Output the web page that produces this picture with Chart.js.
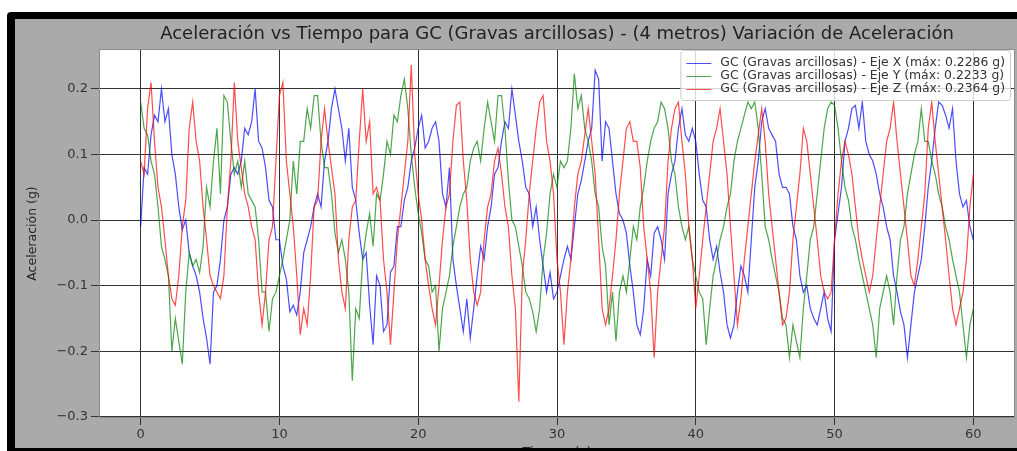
<!doctype html>
<html lang="es">
<head>
<meta charset="UTF-8">
<title>Aceleración vs Tiempo - GC (Gravas arcillosas)</title>
<script src="https://cdn.jsdelivr.net/npm/chart.js"></script>
<style>
  html, body { margin: 0; padding: 0; background: #fff; overflow: hidden; }
  body { width: 1017px; height: 451px; position: relative; }
  .marco { position: absolute; left: 7px; top: 12px; width: 1010px; height: 439px; background: #000; border-top-left-radius: 4px; }
  .fondo { position: absolute; left: 15px; top: 19px; width: 1002px; height: 429px; background: #aaaaaa; }
  #grafico { position: absolute; left: 15px; top: 19px; }
  .borde-inf { position: absolute; left: 7px; top: 448px; width: 1010px; height: 3px; background: #000; }
</style>
</head>
<body>
<div class="marco"></div>
<div class="fondo"></div>
<canvas id="grafico" width="1002" height="460"></canvas>
<div class="borde-inf"></div>

<script>
// muestras cada 0.25 s, de 0 a 60 s
const PASO = 0.25;

const ejeX = [
  -0.01, 0.08, 0.07, 0.13, 0.16, 0.15, 0.20, 0.15, 0.17, 0.10, 0.07, 0.02, -0.015, 0.0, -0.05, -0.07, -0.085, -0.11, -0.15, -0.18,
  -0.22, -0.11, -0.10, -0.06, 0.0, 0.02, 0.07, 0.08, 0.07, 0.09, 0.14, 0.13, 0.15, 0.20, 0.12, 0.11, 0.08, 0.03, 0.02, -0.03,
  -0.03, -0.07, -0.09, -0.14, -0.13, -0.145, -0.11, -0.05, -0.03, -0.01, 0.02, 0.04, 0.02, 0.09, 0.12, 0.17, 0.20, 0.17, 0.14, 0.09,
  0.14, 0.05, 0.03, -0.02, -0.06, -0.05, -0.13, -0.19, -0.085, -0.10, -0.17, -0.16, -0.08, -0.07, -0.01, -0.01, 0.03, 0.05, 0.09, 0.11,
  0.14, 0.16, 0.11, 0.12, 0.14, 0.15, 0.12, 0.04, 0.02, 0.08, -0.06, -0.10, -0.135, -0.17, -0.12, -0.18, -0.135, -0.085, -0.04, -0.06,
  -0.01, 0.02, 0.07, 0.08, 0.12, 0.15, 0.14, 0.20, 0.16, 0.12, 0.09, 0.05, 0.04, -0.01, 0.02, -0.03, -0.07, -0.11, -0.08, -0.12,
  -0.11, -0.085, -0.06, -0.04, -0.06, -0.01, 0.04, 0.06, 0.09, 0.12, 0.14, 0.2286, 0.215, 0.09, 0.15, 0.14, 0.09, 0.04, 0.01, 0.0,
  -0.02, -0.07, -0.11, -0.16, -0.175, -0.135, -0.06, -0.085, -0.02, -0.01, -0.03, -0.06, 0.04, 0.07, 0.09, 0.14, 0.17, 0.13, 0.12, 0.14,
  0.12, 0.07, 0.03, 0.02, -0.03, -0.06, -0.04, -0.08, -0.11, -0.16, -0.18, -0.16, -0.11, -0.07, -0.085, -0.11, -0.03, 0.05, 0.09, 0.15,
  0.17, 0.14, 0.13, 0.12, 0.07, 0.05, 0.05, 0.04, -0.01, -0.03, -0.085, -0.11, -0.10, -0.135, -0.15, -0.16, -0.135, -0.11, -0.15, -0.17,
  -0.03, 0.01, 0.05, 0.12, 0.14, 0.17, 0.175, 0.14, 0.18, 0.12, 0.10, 0.09, 0.07, 0.04, 0.02, -0.01, -0.03, -0.085, -0.11, -0.14,
  -0.16, -0.21, -0.16, -0.11, -0.085, -0.06, -0.01, 0.05, 0.09, 0.14, 0.18, 0.175, 0.16, 0.14, 0.17, 0.09, 0.04, 0.02, 0.03, -0.01,
  -0.03
];

const ejeY = [
  0.18, 0.14, 0.13, 0.09, 0.07, 0.02, -0.04, -0.06, -0.085, -0.20, -0.15, -0.185, -0.22, -0.11, -0.05, -0.07, -0.06, -0.08, -0.04, 0.05,
  0.02, 0.09, 0.14, 0.04, 0.19, 0.18, 0.12, 0.07, 0.09, 0.05, 0.09, 0.04, 0.03, 0.02, -0.03, -0.11, -0.11, -0.17, -0.12, -0.11,
  -0.085, -0.06, -0.03, 0.0, 0.09, 0.04, 0.12, 0.12, 0.17, 0.14, 0.19, 0.19, 0.12, 0.08, 0.08, 0.04, -0.02, -0.05, -0.03, -0.06,
  -0.11, -0.245, -0.135, -0.15, -0.06, -0.02, 0.01, -0.04, 0.04, 0.03, 0.07, 0.12, 0.10, 0.16, 0.15, 0.19, 0.215, 0.17, 0.10, 0.05,
  0.01, -0.02, -0.06, -0.07, -0.11, -0.10, -0.20, -0.135, -0.11, -0.085, -0.04, -0.01, 0.02, 0.04, 0.05, 0.09, 0.11, 0.12, 0.09, 0.14,
  0.18, 0.15, 0.12, 0.19, 0.19, 0.14, 0.06, 0.0, -0.01, -0.04, -0.07, -0.11, -0.12, -0.14, -0.17, -0.135, -0.06, -0.02, 0.04, 0.07,
  0.05, 0.09, 0.08, 0.09, 0.14, 0.2233, 0.17, 0.19, 0.14, 0.12, 0.09, 0.04, 0.02, -0.04, -0.07, -0.16, -0.11, -0.185, -0.11, -0.085,
  -0.11, -0.06, -0.01, -0.03, 0.02, 0.05, 0.09, 0.12, 0.14, 0.15, 0.18, 0.17, 0.14, 0.09, 0.07, 0.02, -0.01, -0.03, -0.01, -0.06,
  -0.085, -0.11, -0.12, -0.19, -0.135, -0.085, -0.06, -0.03, -0.01, 0.02, 0.04, 0.09, 0.12, 0.14, 0.16, 0.18, 0.17, 0.18, 0.14, 0.07,
  -0.01, -0.03, -0.06, -0.085, -0.11, -0.15, -0.16, -0.21, -0.16, -0.185, -0.21, -0.135, -0.085, -0.03, -0.01, 0.04, 0.09, 0.14, 0.17, 0.18,
  0.175, 0.14, 0.09, 0.05, 0.03, -0.01, -0.03, -0.06, -0.085, -0.11, -0.135, -0.16, -0.21, -0.135, -0.11, -0.085, -0.11, -0.16, -0.085, -0.03,
  -0.01, 0.04, 0.07, 0.10, 0.12, 0.17, 0.12, 0.12, 0.09, 0.07, 0.04, 0.02, -0.01, -0.03, -0.06, -0.085, -0.11, -0.16, -0.21, -0.16,
  -0.135
];

const ejeZ = [
  0.09, 0.07, 0.17, 0.21, 0.12, 0.05, 0.02, -0.03, -0.085, -0.12, -0.13, -0.085, -0.01, 0.03, 0.14, 0.18, 0.12, 0.09, 0.02, -0.03,
  -0.085, -0.10, -0.11, -0.12, -0.085, 0.02, 0.09, 0.21, 0.12, 0.08, 0.04, 0.02, -0.01, -0.03, -0.11, -0.16, -0.11, -0.03, -0.01, 0.09,
  0.19, 0.21, 0.09, 0.04, -0.01, -0.085, -0.175, -0.135, -0.16, -0.085, 0.02, 0.03, 0.12, 0.17, 0.12, 0.08, 0.04, -0.06, -0.11, -0.135,
  -0.03, 0.02, 0.03, 0.12, 0.20, 0.12, 0.15, 0.04, 0.05, 0.03, -0.06, -0.11, -0.19, -0.11, -0.03, 0.02, 0.07, 0.12, 0.2364, 0.10,
  0.04, 0.0, -0.06, -0.10, -0.135, -0.16, -0.10, -0.03, 0.02, 0.04, 0.12, 0.175, 0.18, 0.09, 0.03, -0.06, -0.11, -0.13, -0.11, -0.03,
  0.02, 0.04, 0.09, 0.11, 0.07, 0.02, -0.01, -0.085, -0.135, -0.277, -0.085, -0.03, 0.04, 0.09, 0.14, 0.18, 0.19, 0.12, 0.09, 0.04,
  -0.06, -0.11, -0.19, -0.11, -0.06, 0.02, 0.07, 0.09, 0.13, 0.17, 0.12, 0.07, -0.03, -0.135, -0.16, -0.135, -0.085, -0.03, 0.04, 0.09,
  0.14, 0.15, 0.12, 0.12, 0.08, -0.01, -0.06, -0.11, -0.21, -0.11, -0.06, -0.01, 0.09, 0.14, 0.17, 0.18, 0.12, 0.07, -0.01, -0.06,
  -0.135, -0.085, -0.03, 0.02, 0.07, 0.12, 0.14, 0.17, 0.12, 0.07, -0.01, -0.085, -0.16, -0.12, -0.06, -0.01, 0.04, 0.09, 0.13, 0.17,
  0.12, 0.04, -0.01, -0.06, -0.11, -0.16, -0.15, -0.11, -0.03, 0.02, 0.07, 0.14, 0.12, 0.07, 0.02, -0.03, -0.085, -0.11, -0.12, -0.11,
  -0.03, 0.04, 0.09, 0.12, 0.10, 0.07, 0.02, -0.03, -0.06, -0.085, -0.11, -0.085, -0.03, 0.02, 0.07, 0.12, 0.14, 0.18, 0.12, 0.07,
  0.02, -0.03, -0.085, -0.10, -0.06, -0.01, 0.04, 0.14, 0.18, 0.12, 0.07, 0.02, -0.03, -0.085, -0.135, -0.16, -0.135, -0.11, -0.06, 0.02,
  0.07
];

const etiquetas = [
  'GC (Gravas arcillosas) - Eje X (máx: 0.2286 g)',
  'GC (Gravas arcillosas) - Eje Y (máx: 0.2233 g)',
  'GC (Gravas arcillosas) - Eje Z (máx: 0.2364 g)'
];
const colores = ['rgba(0, 0, 255, 0.7)', 'rgba(0, 128, 0, 0.7)', 'rgba(255, 0, 0, 0.7)'];

const ticksX = [0, 10, 20, 30, 40, 50, 60];
const ticksY = [-0.3, -0.2, -0.1, 0.0, 0.1, 0.2];

const titulo = 'Aceleración vs Tiempo para GC (Gravas arcillosas) - (4 metros) Variación de Aceleración';

const FUENTE = 'DejaVu Sans';
const GRIS_GRID = '#333333';

const puntos = serie => serie.map((v, i) => ({ x: i * PASO, y: v }));

// fondo blanco del area, marco del eje y leyenda con caja
const areaPlugin = {
  id: 'areaPlugin',
  beforeDraw(chart) {
    const { ctx, chartArea: a } = chart;
    ctx.save();
    ctx.fillStyle = '#ffffff';
    ctx.fillRect(a.left, a.top, a.right - a.left, a.bottom - a.top);
    ctx.restore();
  },
  afterDraw(chart) {
    const { ctx, chartArea: a } = chart;
    ctx.save();
    ctx.strokeStyle = '#8c8c8c';
    ctx.lineWidth = 1;
    ctx.strokeRect(a.left + 0.5, a.top + 0.5, a.right - a.left - 1, a.bottom - a.top - 1);

    // leyenda
    ctx.font = '12.4px "' + FUENTE + '"';
    const anchoTxt = Math.max(...chart.data.datasets.map(d => ctx.measureText(d.label).width));
    const w = 40 + anchoTxt + 5;
    const h = 50;
    const x0 = a.right - 5 - w;
    const y0 = a.top + 1;
    ctx.fillStyle = 'rgba(255, 255, 255, 0.8)';
    ctx.strokeStyle = '#cccccc';
    ctx.beginPath();
    ctx.roundRect(x0 + 0.5, y0 + 0.5, w, h, 3);
    ctx.fill();
    ctx.stroke();
    chart.data.datasets.forEach((d, i) => {
      const yy = y0 + 13 + i * 13;
      ctx.strokeStyle = d.borderColor;
      ctx.lineWidth = 1;
      ctx.beginPath();
      ctx.moveTo(x0 + 6, yy + 0.5);
      ctx.lineTo(x0 + 31, yy + 0.5);
      ctx.stroke();
      ctx.fillStyle = '#333333';
      ctx.textBaseline = 'middle';
      ctx.fillText(d.label, x0 + 40, yy);
    });
    ctx.restore();
  }
};

const grafico = new Chart(document.getElementById('grafico'), {
  type: 'line',
  data: {
    datasets: [ejeX, ejeY, ejeZ].map((serie, i) => ({
      label: etiquetas[i],
      data: puntos(serie),
      borderColor: colores[i],
      borderWidth: 1.2,
      pointRadius: 0,
      tension: 0,
      fill: false,
      order: 2 - i
    }))
  },
  options: {
    responsive: false,
    animation: false,
    devicePixelRatio: 1,
    layout: { padding: { left: 0, right: 2, top: 0, bottom: 0 } },
    plugins: {
      legend: { display: false },
      tooltip: { enabled: false },
      title: {
        display: true,
        text: titulo,
        fullSize: false,
        color: '#222222',
        font: { family: FUENTE, size: 18, weight: 'normal' },
        padding: { top: 5, bottom: 3.4 }
      }
    },
    scales: {
      x: {
        type: 'linear',
        min: -3,
        max: 63,
        afterBuildTicks: s => { s.ticks = ticksX.map(v => ({ value: v })); },
        afterFit: s => { s.height = 61; },
        ticks: {
          color: '#333333',
          font: { family: FUENTE, size: 13 },
          padding: 2,
          maxRotation: 0,
          callback: v => String(v)
        },
        grid: { color: GRIS_GRID, lineWidth: 1, tickLength: 7, tickColor: GRIS_GRID },
        border: { display: false },
        title: {
          display: true,
          text: 'Tiempo (s)',
          color: '#262626',
          font: { family: FUENTE, size: 13 },
          padding: { top: 0, bottom: 19 }
        }
      },
      y: {
        min: -0.302,
        max: 0.261,
        afterBuildTicks: s => { s.ticks = ticksY.map(v => ({ value: v })); },
        afterFit: s => { s.width = 84; },
        ticks: {
          color: '#333333',
          font: { family: FUENTE, size: 13 },
          padding: 3,
          callback: v => (v < 0 ? '\u2212' : '') + Math.abs(v).toFixed(1)
        },
        grid: { color: GRIS_GRID, lineWidth: 1, tickLength: 8, tickColor: GRIS_GRID },
        border: { display: false },
        title: {
          display: true,
          text: 'Aceleración (g)',
          color: '#262626',
          font: { family: FUENTE, size: 12.5 },
          padding: { top: 10, bottom: 0 }
        }
      }
    }
  },
  plugins: [areaPlugin]
});
</script>
</body>
</html>
